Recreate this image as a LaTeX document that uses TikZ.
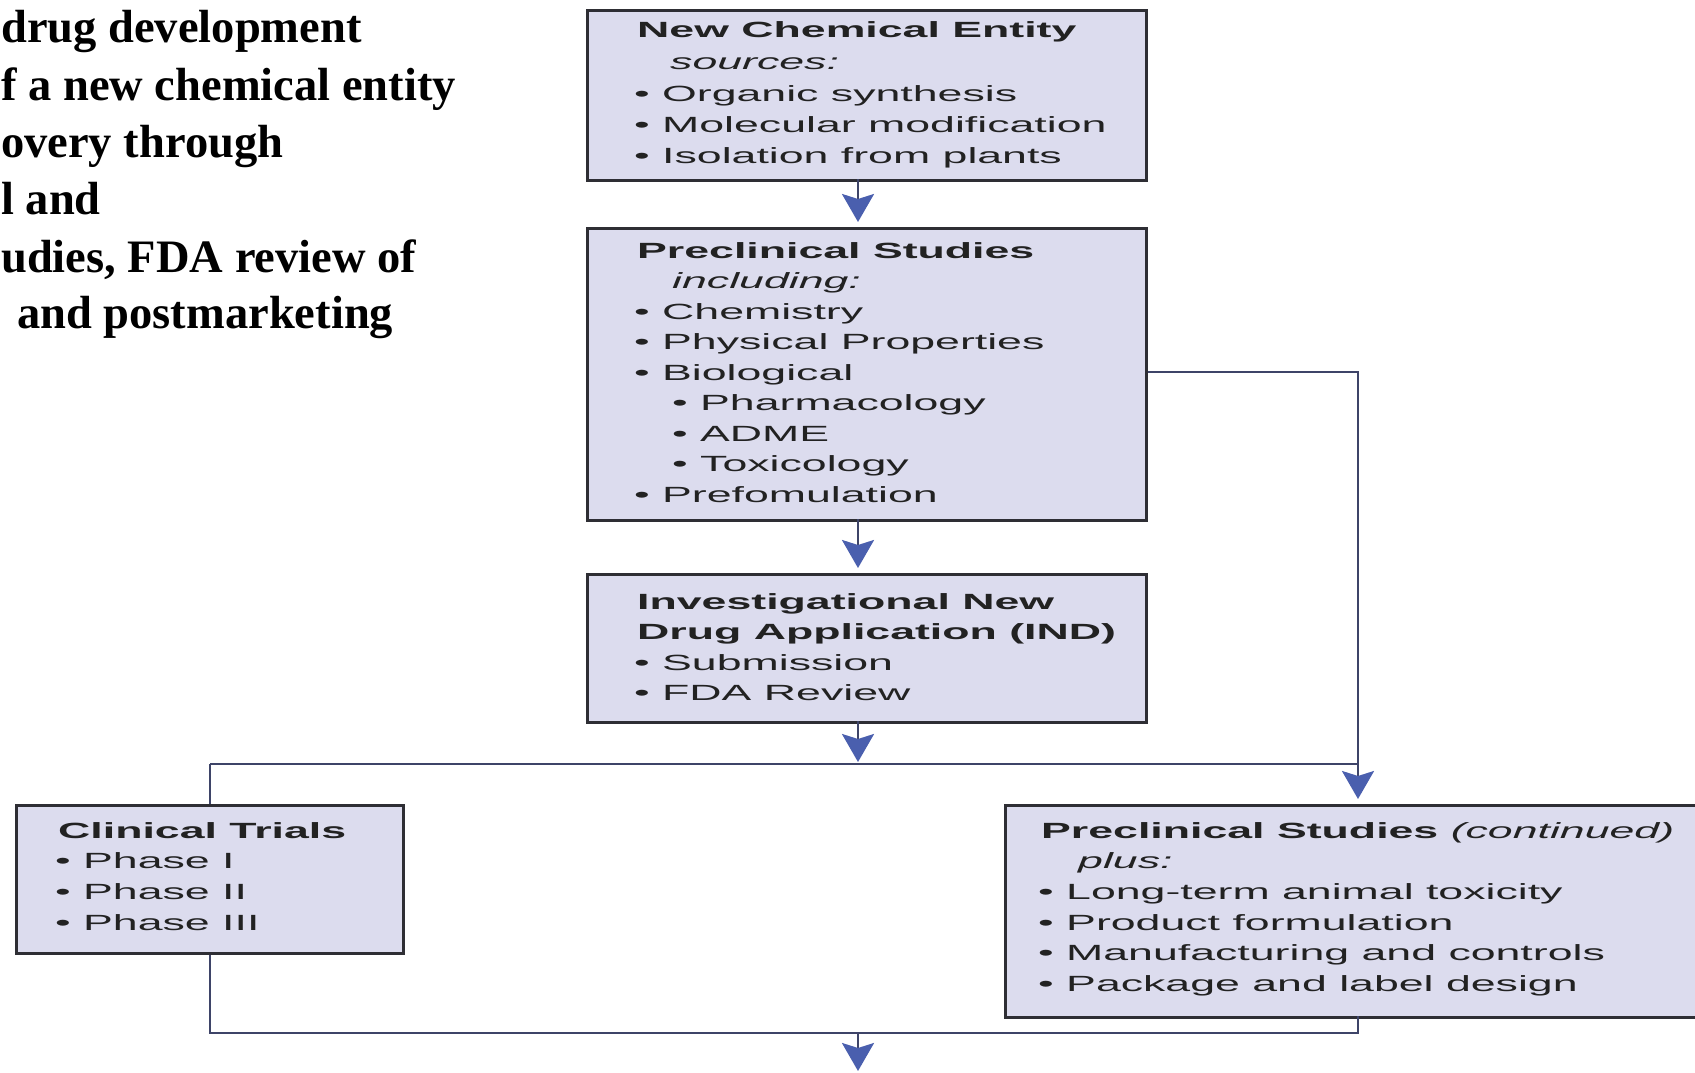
\documentclass[tikz,border=0pt]{standalone}
\usepackage{fontspec}
\usetikzlibrary{arrows.meta}
\newfontfamily\bxfont[FakeStretch=2.03]{Liberation Sans}
\newfontfamily\ltfont{Liberation Serif}
\definecolor{boxfill}{HTML}{DCDCEE}
\definecolor{boxline}{HTML}{2E2E34}
\definecolor{conn}{HTML}{3E4468}
\definecolor{tipblue}{HTML}{4A5FAE}
\definecolor{txt}{HTML}{222222}
\tikzset{
  flowbox/.style={draw=boxline, line width=3pt, fill=boxfill, rectangle, anchor=north west, inner sep=0pt},
  bt/.style={anchor=base west, inner sep=0pt, text=txt, font=\bxfont\fontsize{22}{30}\selectfont},
  lt/.style={anchor=base west, inner sep=0pt, text=black, font=\ltfont\bfseries\fontsize{46.5}{56}\selectfont},
  conline/.style={draw=conn, line width=2.5pt},
  arr/.style={conline, -{Stealth[length=28pt, width=32pt, inset=5pt, color=tipblue]}, shorten >=5pt}
}
\begin{document}
\begin{tikzpicture}[x=1pt, y=-1pt]
\useasboundingbox[fill=white] (0,0) rectangle (1695,1073);
% left caption text (cut at the left in the source)
\node[lt] (l1) at (1,43) {drug development};
\node[lt] (l2) at (1,100) {f a new chemical entity};
\node[lt] (l3) at (1,157) {overy through};
\node[lt] (l4) at (1,214) {l and};
\node[lt] (l5) at (1,272) {udies, FDA review of};
\node[lt] (l6) at (17,328) {and postmarketing};
% boxes
\node[flowbox, minimum width=559pt, minimum height=170pt] (nce) at (586,9) {};
\node[flowbox, minimum width=559pt, minimum height=292pt] (pre) at (586,227) {};
\node[flowbox, minimum width=559pt, minimum height=148pt] (ind) at (586,573) {};
\node[flowbox, minimum width=387pt, minimum height=148pt] (clin) at (15,804) {};
\node[flowbox, minimum width=720pt, minimum height=212pt] (prec) at (1004,804) {};
% box 1 text
\node[bt] (t11) at (637,38) {\bfseries New Chemical Entity};
\node[bt] (t12) at (670,70) {\itshape sources:};
\node[bt] (t13) at (634,101) {• Organic synthesis};
\node[bt] (t14) at (634,132) {• Molecular modification};
\node[bt] (t15) at (634,163) {• Isolation from plants};
% box 2 text
\node[bt] (t21) at (637,258) {\bfseries Preclinical Studies};
\node[bt] (t22) at (672,288) {\itshape including:};
\node[bt] (t23) at (634,319) {• Chemistry};
\node[bt] (t24) at (634,349) {• Physical Properties};
\node[bt] (t25) at (634,380) {• Biological};
\node[bt] (t26) at (672,410) {• Pharmacology};
\node[bt] (t27) at (672,441) {• ADME};
\node[bt] (t28) at (672,471) {• Toxicology};
\node[bt] (t29) at (634,502) {• Prefomulation};
% box 3 text
\node[bt] (t31) at (637,609) {\bfseries Investigational New};
\node[bt] (t32) at (637,639) {\bfseries Drug Application (IND)};
\node[bt] (t33) at (634,670) {• Submission};
\node[bt] (t34) at (634,700) {• FDA Review};
% clinical trials text
\node[bt] (t41) at (58,838) {\bfseries Clinical Trials};
\node[bt] (t42) at (55,868) {• Phase I};
\node[bt] (t43) at (55,899) {• Phase II};
\node[bt] (t44) at (55,930) {• Phase III};
% preclinical continued text
\node[bt] (t51) at (1041,838) {\bfseries Preclinical Studies \mdseries\itshape(continued)};
\node[bt] (t52) at (1078,868) {\itshape plus:};
\node[bt] (t53) at (1038,899) {• Long-term animal toxicity};
\node[bt] (t54) at (1038,930) {• Product formulation};
\node[bt] (t55) at (1038,960) {• Manufacturing and controls};
\node[bt] (t56) at (1038,991) {• Package and label design};
% junction coordinates
\coordinate (a1s) at (858,179);
\coordinate (a1e) at (858,227);
\coordinate (a2s) at (858,519);
\coordinate (a2e) at (858,573);
\coordinate (a3s) at (858,721);
\coordinate (jmid) at (858,764);
\coordinate (jl) at (clin.north |- 0,764);
\coordinate (jr) at (1358,764);
\coordinate (pr) at (1358,372);
\coordinate (prs) at (pre.east |- 0,372);
\coordinate (bl) at (clin.south |- 0,1033);
\coordinate (br) at (1358,1033);
\coordinate (bm) at (858,1033);
\coordinate (bend) at (858,1073);
\coordinate (ptop) at (1358,804);
\coordinate (pbot) at (1358,1016);
% connectors
\draw[conline] (jl) -- (jr);
\draw[conline] (jl) -- (clin.north);
\draw[arr] (a1s) -- (a1e);
\draw[arr] (a2s) -- (a2e);
\draw[arr, shorten >=2pt] (a3s) -- (jmid);
\draw[arr] (prs) -- (pr) -- (ptop);
\draw[conline] (clin.south) -- (bl) -- (br) -- (pbot);
\draw[arr, shorten >=2pt] (bm) -- (bend);
\end{tikzpicture}
\end{document}
